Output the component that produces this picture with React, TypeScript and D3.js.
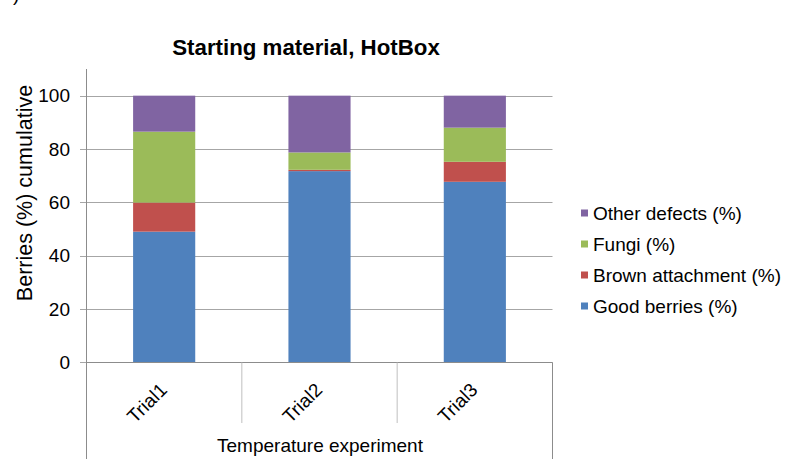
import React from "react";
import * as d3 from "d3";

const categories = ["Trial1", "Trial2", "Trial3"];
const goodBerries = [49.0, 71.7, 67.7];
const brownAttachment = [10.9, 0.5, 7.5];
const fungi = [26.6, 6.5, 12.8];
const otherDefects = [13.5, 21.3, 12.0];
const seriesNames = ["Good berries (%)", "Brown attachment (%)", "Fungi (%)", "Other defects (%)"];
const seriesColors = ["#4F81BD", "#C0504D", "#9BBB59", "#8064A2"];
const yTicks = [0, 20, 40, 60, 80, 100];

const W = 790;
const H = 459;
const X0 = 86.5;
const X1 = 552.5;
const FONT = "'Liberation Sans', Arial, sans-serif";
const FS = 19;

export default function App() {
  const rows = categories.map((c, i) => ({
    cat: c,
    s0: goodBerries[i],
    s1: brownAttachment[i],
    s2: fungi[i],
    s3: otherDefects[i],
  }));
  const keys = ["s0", "s1", "s2", "s3"];
  const stacked = d3.stack<any>().keys(keys)(rows);

  const x = d3.scaleBand<string>().domain(categories).range([X0, X1]).paddingInner(0.6).paddingOuter(0.3);
  const y = d3.scaleLinear().domain([0, 110]).range([362.3, 69]);
  const step = x.step();
  const bounds = d3.range(categories.length + 1).map((i) => X0 + i * step);

  const legendOrder = [3, 2, 1, 0];

  return (
    <svg width={W} height={H} style={{ position: "absolute", left: 0, top: 0, background: "#fff" }} fontFamily={FONT}>
      <rect x={0} y={0} width={W} height={H} fill="#fff" />
      <text x={13} y={1} fontSize={19} fill="#000">)</text>
      {yTicks.map((t) => (
        <line key={"g" + t} x1={80} x2={X1} y1={Math.round(y(t)) + 0.5} y2={Math.round(y(t)) + 0.5} stroke="#A6A6A6" strokeWidth={1} />
      ))}
      {stacked.map((layer, si) =>
        layer.map((d, i) => (
          <rect
            key={si + "-" + i}
            x={x(categories[i])}
            y={y(d[1])}
            width={x.bandwidth()}
            height={y(d[0]) - y(d[1])}
            fill={seriesColors[si]}
          />
        ))
      )}
      <line x1={X0} x2={X0} y1={y(110)} y2={H} stroke="#8C8C8C" strokeWidth={1} />
      {yTicks.map((t) => (
        <text key={"t" + t} x={70} y={y(t) + 6.8} fontSize={FS} textAnchor="end" fill="#000">
          {t}
        </text>
      ))}
      <line x1={X0} x2={X1} y1={362.5} y2={362.5} stroke="#8C8C8C" strokeWidth={1} />
      {bounds.map((b, i) => (
        <line
          key={"b" + i}
          x1={b}
          x2={b}
          y1={362.5}
          y2={i === 0 || i === bounds.length - 1 ? H : 423}
          stroke={i === 0 || i === bounds.length - 1 ? "#8C8C8C" : "#BFBFBF"}
          strokeWidth={1}
        />
      ))}
      {categories.map((c) => {
        const cx = (x(c) as number) + x.bandwidth() / 2 + 4;
        const cy = 391;
        return (
          <text key={c} x={cx} y={cy} fontSize={FS} textAnchor="end" transform={`rotate(-45 ${cx} ${cy})`} fill="#000">
            {c}
          </text>
        );
      })}
      <text x={320} y={452} fontSize={FS} textAnchor="middle" fill="#000">
        Temperature experiment
      </text>
      <text x={306} y={55} fontSize={22.3} fontWeight="bold" textAnchor="middle" fill="#000">
        Starting material, HotBox
      </text>
      <text x={0} y={0} fontSize={21.5} textAnchor="middle" fill="#000" transform={`translate(31.5,193) rotate(-90)`}>
        Berries (%) cumulative
      </text>
      {legendOrder.map((si, k) => {
        const cy = 213 + k * 31;
        return (
          <g key={"l" + si}>
            <rect x={581} y={cy - 3.5} width={7} height={7} fill={seriesColors[si]} />
            <text x={593} y={cy + 6.8} fontSize={FS} fill="#000">
              {seriesNames[si]}
            </text>
          </g>
        );
      })}
    </svg>
  );
}
